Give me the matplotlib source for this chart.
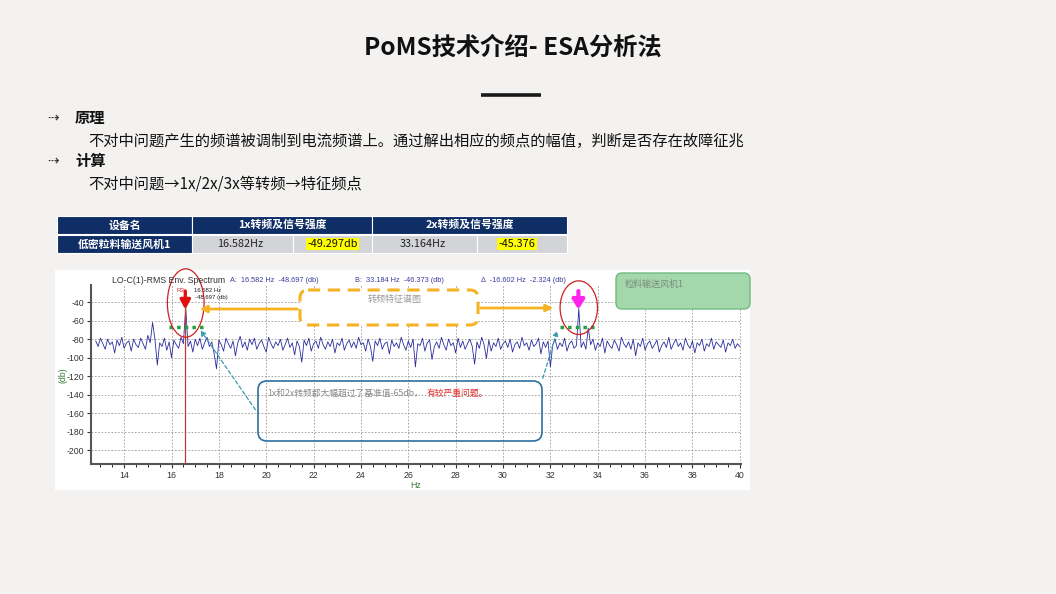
import matplotlib
matplotlib.use("Agg")
import matplotlib.pyplot as plt
import numpy as np
from matplotlib.patches import FancyBboxPatch, Rectangle, Ellipse

plt.rcParams['font.family'] = ['Noto Sans CJK SC', 'DejaVu Sans']
plt.rcParams['axes.unicode_minus'] = False

# ---------------- data ----------------
title = "PoMS技术介绍- ESA分析法"
bullets = [("原理", "不对中问题产生的频谱被调制到电流频谱上。通过解出相应的频点的幅值，判断是否存在故障征兆"),
           ("计算", "不对中问题→1x/2x/3x等转频→特征频点")]
table_header = ["设备名", "1x转频及信号强度", "2x转频及信号强度"]
table_row = ["低密粒料输送风机1", "16.582Hz", "-49.297db", "33.164Hz", "-45.376"]

freq_start = 12.8
freq_step = 0.1
spectrum_db = [
    -82, -88, -79, -85, -91, -80, -86, -83, -95, -81,
    -87, -78, -90, -84, -82, -93, -80, -86, -89, -79,
    -85, -91, -76, -84, -62, -80, -108, -84, -88, -79,
    -92, -83, -100, -81, -86, -90, -78, -85, -46, -88,
    -82, -94, -80, -87, -79, -91, -84, -78, -88, -83,
    -96, -112, -81, -86, -93, -79, -85, -90, -82, -98,
    -84, -77, -89, -83, -92, -80, -86, -79, -91, -85,
    -81, -88, -94, -78, -85, -90, -83, -87, -80, -92,
    -86, -79, -89, -84, -97, -82, -88, -105, -81, -87,
    -79, -93, -85, -82, -90, -78, -86, -91, -83, -88,
    -80, -95, -84, -87, -79, -92, -85, -81, -89, -83,
    -90, -78, -86, -84, -93, -80, -88, -104, -82, -87,
    -79, -91, -85, -83, -96, -81, -88, -84, -90, -78,
    -86, -92, -82, -89, -80, -110, -85, -87, -79, -93,
    -84, -81, -102, -88, -83, -90, -78, -86, -92, -80,
    -87, -84, -95, -79, -89, -82, -91, -85, -80, -88,
    -107, -83, -90, -78, -86, -101, -81, -93, -84, -88,
    -79, -91, -85, -82, -89, -80, -94, -86, -83, -90,
    -78, -87, -84, -92, -81, -88, -85, -79, -96, -83,
    -89, -82, -110, -86, -80, -91, -84, -88, -79, -93,
    -85, -82, -90, -87, -47, -89, -83, -91, -68, -86,
    -80, -92, -84, -88, -79, -95, -82, -87, -90, -81,
    -86, -93, -78, -85, -89, -83, -91, -80, -98, -84,
    -88, -79, -92, -85, -82, -90, -86, -81, -94, -87,
    -83, -89, -78, -91, -85, -80, -88, -84, -92, -79,
    -86, -90, -82, -95, -84, -87, -80, -93, -85, -88,
    -79, -91, -83, -86, -89, -81, -94, -84, -87, -80,
    -90, -85, -88,
]
freqs = freq_start + freq_step * np.arange(len(spectrum_db))
marker_a = (16.582, -48.697)
marker_b = (33.184, -46.373)
delta = (-16.602, -2.324)
threshold_db = -67
x_ticks = [14, 16, 18, 20, 22, 24, 26, 28, 30, 32, 34, 36, 38, 40]
y_ticks = [-40, -60, -80, -100, -120, -140, -160, -180, -200]

# ---------------- figure ----------------
W, H = 1056, 594
fig = plt.figure(figsize=(W / 100, H / 100), dpi=100)
fig.patch.set_facecolor("#f3f2f1")
LAT = "Liberation Sans"

def fx(x):
    return x / W

def fy(y):
    return 1 - y / H

# background overlay (pixel coords)
bg = fig.add_axes([0, 0, 1, 1], zorder=0)
bg.set_xlim(0, W); bg.set_ylim(H, 0); bg.axis("off")
bg.add_patch(Rectangle((55, 270), 695, 220, facecolor="white", edgecolor="none"))

# spectrum axes
ax = fig.add_axes([fx(91), fy(464), 650 / W, (464 - 285) / H], zorder=1)
ax.set_xlim(12.6, 40.05)
ax.set_ylim(-215, -21.5)
ax.plot(freqs, spectrum_db, color="#2b2b9e", lw=0.6, zorder=3)
ax.set_xticks(x_ticks)
ax.set_yticks(y_ticks)
ax.set_xticks(np.arange(13, 40.01, 0.5), minor=True)
ax.grid(True, which="major", color="#999999", ls=(0, (2, 2)), lw=0.6)
ax.tick_params(axis="both", labelsize=6.3, colors="#333333", length=3, width=0.8, pad=2)
ax.tick_params(axis="x", which="minor", length=2, width=0.6)
for lbl in ax.get_xticklabels() + ax.get_yticklabels():
    lbl.set_fontfamily(LAT)
for s in ["top", "right"]:
    ax.spines[s].set_visible(False)
for s in ["left", "bottom"]:
    ax.spines[s].set_linewidth(1.5)
    ax.spines[s].set_color("#555555")
ax.set_facecolor("white")

# marker lines and arrows
ax.plot([marker_a[0], marker_a[0]], [-36, -215], color="#c0392b", lw=0.9, zorder=4)
ax.annotate("", xy=(marker_a[0], -48), xytext=(marker_a[0], -28),
            arrowprops=dict(arrowstyle="-|>,head_width=0.3,head_length=0.55", color="#e01010", lw=2.4,
                            shrinkA=0, shrinkB=0), zorder=6)
ax.annotate("", xy=(marker_b[0], -48), xytext=(marker_b[0], -28),
            arrowprops=dict(arrowstyle="-|>,head_width=0.35,head_length=0.55", color="#ff22ee", lw=3.0,
                            shrinkA=0, shrinkB=0), zorder=6)
ax.text(marker_a[0] - 0.05, -30, "R3", color="#e02020", fontsize=4.5, ha="right", va="bottom", family=LAT)
ax.text(marker_a[0] + 0.35, -30, "16.582 Hz", color="#222222", fontsize=4.3, ha="left", va="bottom", family=LAT)
ax.text(marker_a[0] + 0.4, -38, "-48.697 (db)", color="#222222", fontsize=4.3, ha="left", va="bottom", family=LAT)

# threshold dotted lines
ax.plot([15.9, 17.4], [threshold_db, threshold_db], color="#22a040", lw=2.5, ls=(0, (1, 1.2)), zorder=5)
ax.plot([32.4, 34.0], [threshold_db, threshold_db], color="#22a040", lw=2.5, ls=(0, (1, 1.2)), zorder=5)

# red ellipses
ax.add_patch(Ellipse((16.6, -41), 1.55, 74, fill=False, edgecolor="#d02020", lw=0.9, zorder=7, clip_on=False))
ax.add_patch(Ellipse((33.2, -46), 1.58, 58, fill=False, edgecolor="#d02020", lw=0.9, zorder=7, clip_on=False))

# chart header texts
fig.text(fx(112), fy(280), "LO-C(1)-RMS Env. Spectrum", fontsize=6.3, color="#333333", va="center", family=LAT)
fig.text(fx(230), fy(281), "A:  %.3f Hz  %.3f (db)" % marker_a, fontsize=5.3, color="#3c3ca0", va="center", family=LAT)
fig.text(fx(355), fy(281), "B:  %.3f Hz  %.3f (db)" % marker_b, fontsize=5.3, color="#3c3ca0", va="center", family=LAT)
fig.text(fx(481), fy(281), "Δ  %.3f Hz  %.3f (db)" % delta, fontsize=5.3, color="#3c3ca0", va="center",
         family=[LAT, "DejaVu Sans"])
fig.text(fx(63), fy(375), "(db)", fontsize=6.3, color="#3a7a3a", rotation=90, ha="center", va="center", family=LAT)
fig.text(fx(416), fy(486), "Hz", fontsize=6.3, color="#3a7a3a", ha="center", va="center", family=LAT)

# overlay for callouts and slide text
ov = fig.add_axes([0, 0, 1, 1], zorder=10)
ov.set_xlim(0, W); ov.set_ylim(H, 0); ov.axis("off")
ov.patch.set_alpha(0)

# yellow dashed callout
ov.add_patch(FancyBboxPatch((300, 290), 178, 35, boxstyle="round,pad=0,rounding_size=8",
                            facecolor="white", edgecolor="#f5b324", lw=2.2, ls=(0, (4, 2.5))))
ov.text(395, 299, "转频特征谱图", fontsize=6.5, color="#999999", ha="center", va="center")
ov.annotate("", xy=(197, 309), xytext=(300, 309),
            arrowprops=dict(arrowstyle="-|>,head_width=0.2,head_length=0.4", color="#f5b324", lw=2))
ov.annotate("", xy=(556, 308), xytext=(478, 308),
            arrowprops=dict(arrowstyle="-|>,head_width=0.2,head_length=0.4", color="#f5b324", lw=2))

# blue callout box
ov.add_patch(FancyBboxPatch((258, 381), 284, 60, boxstyle="round,pad=0,rounding_size=9",
                            facecolor="none", edgecolor="#2f6f9f", lw=1.2))
ov.text(267, 393, "1x和2x转频都大幅超过了基准值-65db，", fontsize=6.3, color="#8a8a8a", ha="left", va="center")
ov.text(427, 393, "有较严重问题。", fontsize=6.3, color="#e03030", ha="left", va="center")
ov.annotate("", xy=(199, 328), xytext=(257, 412),
            arrowprops=dict(arrowstyle="-|>,head_width=0.15,head_length=0.3", color="#3a9ab0", lw=0.9, ls=(0, (3, 2))))
ov.annotate("", xy=(558, 328), xytext=(542, 381),
            arrowprops=dict(arrowstyle="-|>,head_width=0.15,head_length=0.3", color="#3a9ab0", lw=0.9, ls=(0, (3, 2))))

# green box
ov.add_patch(FancyBboxPatch((616, 273), 134, 36, boxstyle="round,pad=0,rounding_size=6",
                            facecolor="#a3d8ac", edgecolor="#72bb80", lw=1))
ov.text(625, 284, "粒料输送风机1", fontsize=6.5, color="#7a8a7a", ha="left", va="center")

# title
ov.text(513, 48, title, fontsize=17.5, fontweight="bold", color="#111111", ha="center", va="center")
ov.plot([481, 541], [95, 95], color="#1a1a1a", lw=2.6, solid_capstyle="butt")

# bullets
for (head, body), y0 in zip(bullets, [118, 161]):
    ov.text(47, y0, "⇢", fontsize=10, color="#333333", ha="left", va="center", family=["DejaVu Sans"])
    ov.text(75, y0, head, fontsize=11, fontweight="bold", color="#111111", ha="left", va="center")
    ov.text(88, y0 + 23, body, fontsize=11, color="#111111", ha="left", va="center")

# table
navy = "#0f2e66"
grey = "#d3d4d8"
hdr_cols = [(57, 192), (192, 372), (372, 567)]
for (x0, x1), t in zip(hdr_cols, table_header):
    ov.add_patch(Rectangle((x0, 216), x1 - x0, 18, facecolor=navy, edgecolor="white", lw=0.8))
    ov.text((x0 + x1) / 2, 225, t, fontsize=7.8, fontweight="bold", color="white", ha="center", va="center")
row_cols = [(57, 192), (192, 293), (293, 372), (372, 477), (477, 567)]
for i, ((x0, x1), t) in enumerate(zip(row_cols, table_row)):
    fc = navy if i == 0 else grey
    ov.add_patch(Rectangle((x0, 235), x1 - x0, 18, facecolor=fc, edgecolor="white", lw=0.8))
    if i == 0:
        ov.text((x0 + x1) / 2, 244, t, fontsize=7.8, fontweight="bold", color="white", ha="center", va="center")
    elif i in (2, 4):
        ov.text((x0 + x1) / 2 + (0 if i == 2 else -5), 244, t, fontsize=7.8, color="#111111", ha="center", va="center",
                bbox=dict(boxstyle="square,pad=0.12", facecolor="#ffff00", edgecolor="none"))
    else:
        ov.text((x0 + x1) / 2 - 2, 244, t, fontsize=7.8, color="#222222", ha="center", va="center")

fig.savefig("out.png", dpi=100, facecolor=fig.get_facecolor())
